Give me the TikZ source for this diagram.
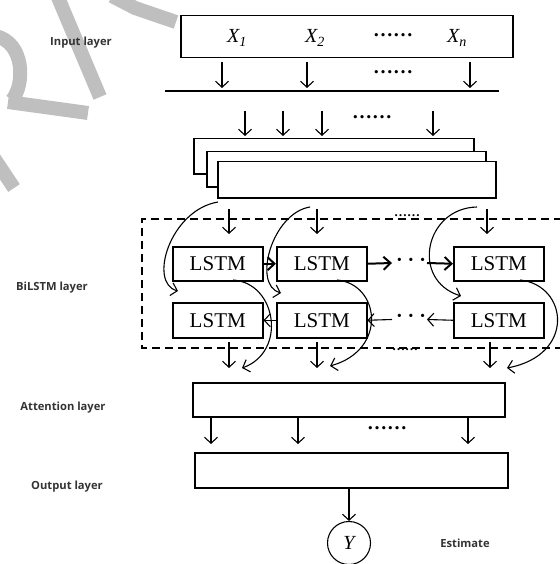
\documentclass[tikz,border=0pt]{standalone}
\usepackage{fontspec}
\setmainfont{Liberation Serif}
\newfontfamily\lblfont{Open Sans}
\usetikzlibrary{arrows.meta}
\definecolor{wm}{RGB}{191,191,191}
\begin{document}
\begin{tikzpicture}[x=1pt,y=-1pt,
  box/.style={draw, line width=1.5pt, fill=white, inner sep=0pt, anchor=north west},
  arr/.style={-{Straight Barb[length=6pt,width=13pt]}, line width=1.1pt},
  thickarr/.style={-{Straight Barb[length=7pt,width=13pt]}, line width=2pt},
  lbl/.style={font=\lblfont\bfseries\fontsize{11.2}{13}\selectfont, text=black!80},
  sym/.style={font=\fontsize{20}{22}\selectfont\itshape},
  dots/.style={font=\fontsize{20}{22}\selectfont\bfseries, inner sep=0pt},
  lstm/.style={box, minimum width=90pt, font=\fontsize{21}{23}\selectfont},
  wmark/.style={draw=wm, line width=14pt}
]
\useasboundingbox (0,0) rectangle (559,564);
% watermark strokes
\draw[wmark] (57,-5) -- (100,97);
\draw[wmark] (-5,36) .. controls (25,42) and (25,85) .. (12,100);
\draw[wmark] (8,102) -- (88,113);
\draw[wmark] (-6,158) -- (14,188);
\draw[wmark] (112,-4) -- (135,8) -- (176,22);

% input layer
\node[box, minimum width=332pt, minimum height=42pt] (inbox) at (180,15) {};
\node[sym] (x1) at (237,38) {X\textsubscript{1}};
\node[sym] (x2) at (315,38) {X\textsubscript{2}};
\node[dots] (xd) at (393,35) {……};
\node[sym] (xn) at (457,38) {X\textsubscript{n}};
\node[lbl] (linput) at (81,43) {Input layer};

\foreach \x/\n in {222/a,307/b,470/c}{
  \coordinate (ia\n) at (\x,62); \coordinate (ib\n) at (\x,88);
  \draw[arr] (ia\n) -- (ib\n);
}
\node[dots] (d1) at (393,72) {……};
\coordinate (hl1) at (165,91); \coordinate (hl2) at (499,91);
\draw[line width=1.6pt] (hl1) -- (hl2);

\foreach \x/\n in {245/a,283/b,322/c,433/d}{
  \coordinate (ja\n) at (\x,111); \coordinate (jb\n) at (\x,136);
  \draw[arr] (ja\n) -- (jb\n);
}
\node[dots] (d2) at (372,117) {……};

% stacked boxes
\node[box, minimum width=280pt, minimum height=35pt] (s1) at (193,138) {};
\node[box, minimum width=279pt, minimum height=35pt] (s2) at (206,151) {};
\node[box, minimum width=278pt, minimum height=36pt] (s3) at (217,161) {};

% BiLSTM dashed frame
\coordinate (f1) at (562,219); \coordinate (f2) at (142,219);
\coordinate (f3) at (142,348); \coordinate (f4) at (562,348);
\draw[line width=1.6pt, dash pattern=on 8pt off 5pt] (f1) -- (f2) -- (f3) -- (f4);
\node[lbl] (lbil) at (52,288) {BiLSTM layer};

% LSTM cells
\node[lstm, minimum height=34pt] (a1) at (172,246) {LSTM};
\node[lstm, minimum height=34pt] (a2) at (276,246) {LSTM};
\node[lstm, minimum height=34pt] (a3) at (453,246) {LSTM};
\node[lstm, minimum height=35pt] (b1) at (172,302) {LSTM};
\node[lstm, minimum height=35pt] (b2) at (276,302) {LSTM};
\node[lstm, minimum height=35pt] (b3) at (453,302) {LSTM};

% vertical arrows into / out of BiLSTM
\foreach \x/\n in {229/a,317/b,487/c}{
  \coordinate (ka\n) at (\x,209); \coordinate (kb\n) at (\x,234);
  \draw[arr] (ka\n) -- (kb\n);
}
\foreach \x/\n in {229/a,317/b,490/c}{
  \coordinate (ma\n) at (\x,342); \coordinate (mb\n) at (\x,368);
  \draw[arr] (ma\n) -- (mb\n);
}
\node[font=\fontsize{13}{13}\selectfont\bfseries, inner sep=0pt] (d3) at (407,216) {……};
\node[font=\fontsize{13}{13}\selectfont\bfseries, inner sep=0pt] (d4) at (405,350) {……};

% horizontal arrows
\draw[thickarr] (a1.east) -- (a2.west);
\coordinate (r1) at (392,263);
\draw[thickarr] (a2.east) -- (r1);
\node[dots] (d5) at (411,262) {· · ·};
\coordinate (r2) at (427,263);
\draw[thickarr] (r2) -- (a3.west);
\coordinate (r3) at (427,319.5);
\draw[arr] (b3.west) -- (r3);
\node[dots] (d6) at (411,318) {· · ·};
\coordinate (r4) at (392,319.5);
\draw[arr] (r4) -- (b2.east);
\draw[arr] (b2.west) -- (b1.east);

% forward curved arrows
\coordinate (c1s) at (218,202); \coordinate (c1e) at (178,291);
\draw[arr] (c1s) .. controls (170,210) and (148,283) .. (c1e);
\coordinate (c2s) at (310,207); \coordinate (c2e) at (281,293);
\draw[arr] (c2s) .. controls (272,213) and (252,285) .. (c2e);
\coordinate (c3s) at (477,207); \coordinate (c3e) at (461,296);
\draw[arr] (c3s) .. controls (425,208) and (410,280) .. (c3e);

% backward curved arrows
\coordinate (e1s) at (233,280); \coordinate (e1e) at (242,368);
\draw[arr] (e1s) .. controls (277,283) and (287,352) .. (e1e);
\coordinate (e2s) at (337,280); \coordinate (e2e) at (330,366);
\draw[arr] (e2s) .. controls (380,284) and (388,350) .. (e2e);
\coordinate (e3s) at (520,280); \coordinate (e3e) at (507,368);
\draw[arr] (e3s) .. controls (568,285) and (576,355) .. (e3e);

% attention layer
\node[box, minimum width=312pt, minimum height=34pt] (att) at (192,382) {};
\node[lbl] (latt) at (63,408) {Attention layer};
\foreach \x/\n in {211/a,298/b,468/c}{
  \coordinate (na\n) at (\x,417); \coordinate (nb\n) at (\x,444);
  \draw[arr] (na\n) -- (nb\n);
}
\node[dots] (d7) at (387,428) {……};

% output layer
\node[box, minimum width=313pt, minimum height=35pt] (out) at (194,452) {};
\node[lbl] (lout) at (67,487) {Output layer};
\node[draw, circle, line width=1.1pt, minimum size=43pt, inner sep=0pt, sym] (y) at (349,543) {Y};
\draw[arr] (out.south -| y) -- (y.north);
\node[lbl] (lest) at (465,543) {Estimate};
\end{tikzpicture}
\end{document}
